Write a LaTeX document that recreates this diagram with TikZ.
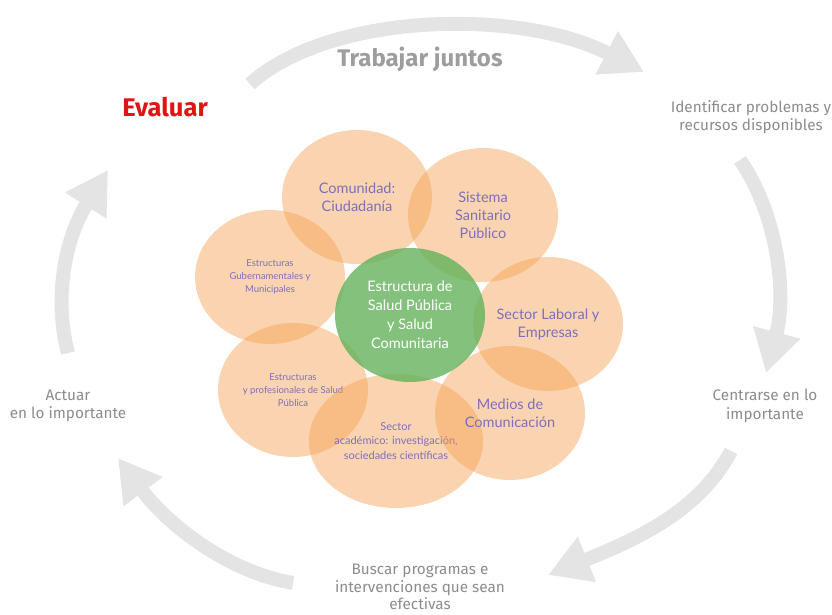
\documentclass[tikz,border=0pt]{standalone}
\usepackage{fontspec}
\setmainfont{Lato}
\newfontfamily\cyclefont{Fira Sans}
\usepackage{tikz}
\usetikzlibrary{shapes.geometric,arrows.meta}
\definecolor{petalorange}{RGB}{245,160,80}
\definecolor{coregreen}{RGB}{100,178,92}
\definecolor{petaltext}{RGB}{125,110,190}
\definecolor{cyclegray}{RGB}{228,228,228}
\definecolor{labelgray}{RGB}{140,140,140}
\definecolor{evalred}{RGB}{225,20,20}

\begin{document}
\begin{tikzpicture}[x=1pt,y=-1pt]
\tikzstyle{petal}=[ellipse, minimum width=150pt, minimum height=134pt, inner sep=0pt, fill=petalorange, fill opacity=0.45, text opacity=1, text=petaltext, align=center]
\tikzstyle{bigpetal}=[petal, font=\fontsize{14.5}{18}\selectfont]
\tikzstyle{midpetal}=[petal, font=\fontsize{11}{14.5}\selectfont]
\tikzstyle{smallpetal}=[petal, font=\fontsize{9.5}{13}\selectfont]
\tikzstyle{core}=[petal, fill=coregreen, fill opacity=0.8, text=white, font=\fontsize{14.5}{19}\selectfont]
\tikzstyle{stage}=[align=center, text=labelgray, font=\cyclefont\fontsize{15.3}{18.5}\selectfont]
\tikzstyle{cycle}=[line width=14pt, draw=cyclegray, -{Triangle[width=46pt,length=42pt]}]

  \useasboundingbox (0,0) rectangle (832,615);

  % circular arrows
  \coordinate (topTail)   at (250,84);
  \coordinate (topTip)    at (644,72);
  \coordinate (rightTail) at (740,160);
  \coordinate (rightTip)  at (766,373);
  \coordinate (lowTail)   at (731,451);
  \coordinate (lowTip)    at (548,575);
  \coordinate (backTail)  at (293,583);
  \coordinate (backTip)   at (118,458);
  \coordinate (leftTail)  at (68,353);
  \coordinate (leftTip)   at (108,170);

  \draw[cycle] (topTail) .. controls (330,12) and (520,8) .. (topTip);
  \draw[cycle] (rightTail) .. controls (775,210) and (788,290) .. (rightTip);
  \draw[cycle] (lowTail) .. controls (700,510) and (640,538) .. (lowTip);
  \draw[cycle] (backTail) .. controls (228,572) and (168,525) .. (backTip);
  \draw[cycle] (leftTail) .. controls (54,300) and (64,240) .. (leftTip);

  % petals
  \node[bigpetal]   (comunidad) at (357,197) {Comunidad:\\Ciudadanía};
  \node[bigpetal]   (sistema)   at (483,215) {Sistema\\Sanitario\\Público};
  \node[smallpetal] (gobierno)  at (270,277) {Estructuras\\Gubernamentales y\\Municipales};
  \node[bigpetal]   (laboral)   at (548,324) {Sector Laboral y\\Empresas};
  \node[smallpetal] (profes)    at (293,390) {Estructuras\\y profesionales de Salud\\Pública};
  \node[midpetal]   (academia)  at (396,441) {Sector\\académico: investigación,\\sociedades científicas};
  \node[bigpetal]   (medios)    at (510,413) {\\[-6pt]Medios de\\Comunicación};
  \node[core]       (salud)     at (410,315) {Estructura de\\Salud Pública\\y Salud\\Comunitaria};

  % stages
  \node[text=labelgray!85, font=\cyclefont\bfseries\fontsize{24}{26}\selectfont] (juntos) at (420,59) {Trabajar juntos};
  \node[text=evalred, font=\cyclefont\bfseries\fontsize{25.5}{26}\selectfont] (evaluar) at (165,107) {Evaluar};
  \node[stage] (identificar) at (751,117) {Identificar problemas y\\recursos disponibles};
  \node[stage] (centrarse)   at (765,406) {Centrarse en lo\\importante};
  \node[stage, font=\cyclefont\fontsize{15.3}{17.5}\selectfont] (buscar) at (420,587) {Buscar programas e\\intervenciones que sean\\efectivas};
  \node[stage] (actuar)      at (68,406)  {Actuar\\en lo importante};

\end{tikzpicture}
\end{document}
